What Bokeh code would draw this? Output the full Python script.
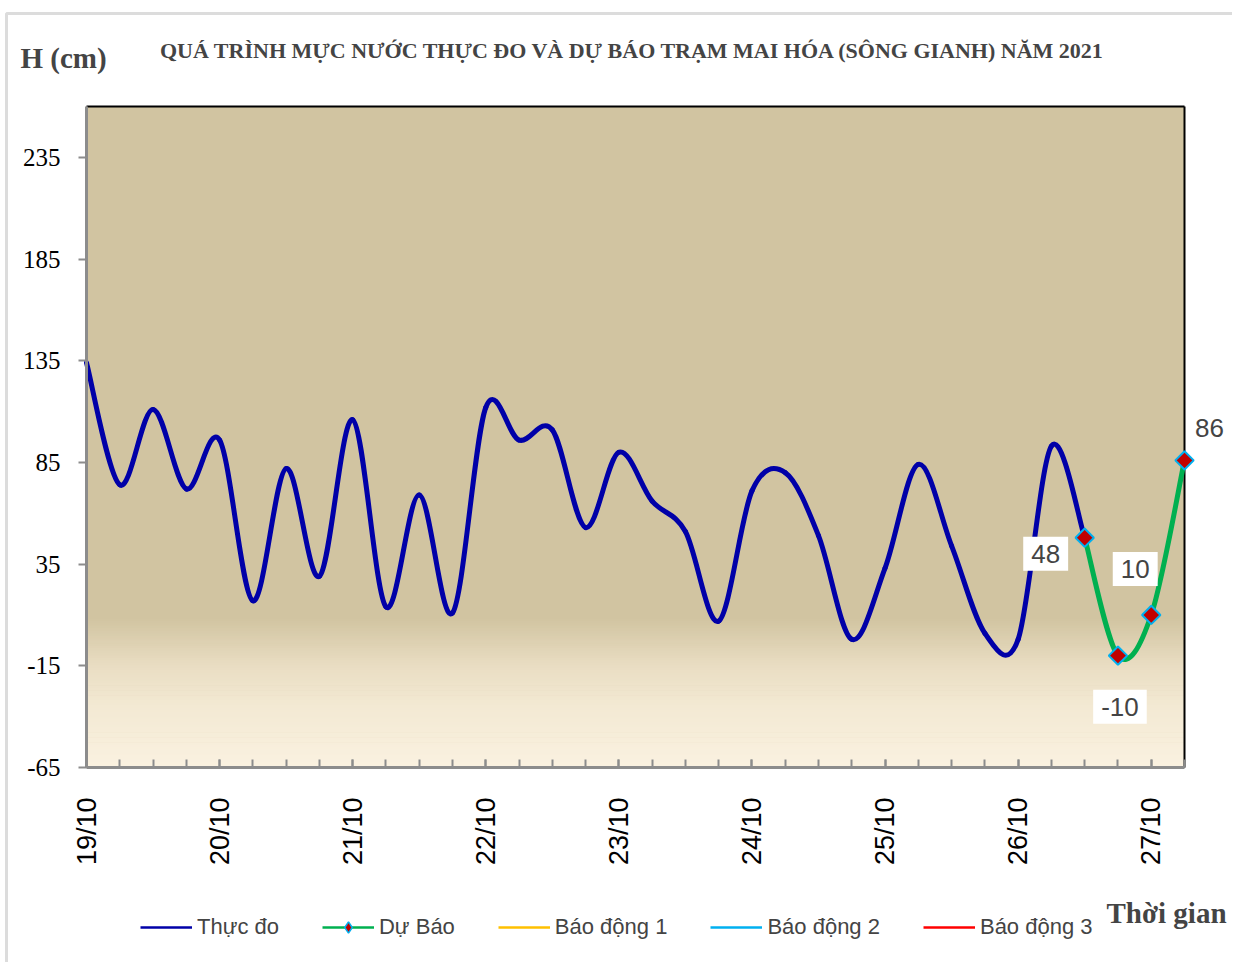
import math
import pandas as pd
from bokeh.plotting import figure
from bokeh.models import (Range1d, FixedTicker, Label, Legend, LegendItem,
                          BoxAnnotation, ColumnDataSource)
from bokeh.embed import file_html
from bokeh.resources import INLINE

# ---------------- data ----------------
title_text = "QUÁ TRÌNH MỰC NƯỚC THỰC ĐO VÀ DỰ BÁO TRẠM MAI HÓA (SÔNG GIANH) NĂM  2021"
y_title = "H (cm)"
x_title = "Thời gian"
day_labels = ["19/10", "20/10", "21/10", "22/10", "23/10", "24/10", "25/10", "26/10", "27/10"]
y_ticks = [-65, -15, 35, 85, 135, 185, 235]

start_time = "2021-10-19 00:00"
obs_time = pd.date_range("2021-10-19 00:00", "2021-10-26 12:00", freq="6h")
obs_level = [134, 74, 111, 72,
             96, 17, 82, 29,
             106, 14, 69, 11,
             112, 96, 101, 53,
             90, 66, 51, 7,
             71, 80, 49, -2,
             33, 84, 44, 1,
             -2, 93, 48]
fc_time = pd.date_range("2021-10-26 12:00", "2021-10-27 06:00", freq="6h")
fc_level = [48, -10, 10, 86]

legend_labels = ["Thực đo", "Dự Báo", "Báo động 1", "Báo động 2", "Báo động 3"]

# ---------------- helpers ----------------
t0 = pd.Timestamp(start_time)
def to_days(ts):
    return [(t - t0) / pd.Timedelta("1D") for t in ts]

def smooth_segments(xs, ys):
    """Bezier segments (Catmull-Rom) so the line looks like Excel's smoothed line."""
    n = len(xs)
    seg = dict(x0=[], y0=[], x1=[], y1=[], cx0=[], cy0=[], cx1=[], cy1=[])
    for i in range(n - 1):
        xm, ym = (xs[i - 1], ys[i - 1]) if i > 0 else (xs[i], ys[i])
        xp, yp = (xs[i + 2], ys[i + 2]) if i + 2 < n else (xs[i + 1], ys[i + 1])
        seg["x0"].append(xs[i]); seg["y0"].append(ys[i])
        seg["x1"].append(xs[i + 1]); seg["y1"].append(ys[i + 1])
        seg["cx0"].append(xs[i] + (xs[i + 1] - xm) / 6)
        seg["cy0"].append(ys[i] + (ys[i + 1] - ym) / 6)
        seg["cx1"].append(xs[i + 1] - (xp - xs[i]) / 6)
        seg["cy1"].append(ys[i + 1] - (yp - ys[i]) / 6)
    return ColumnDataSource(seg)

obs_x = to_days(obs_time)
fc_x = to_days(fc_time)

# ---------------- layout (pixels) ----------------
W, H = 1232, 962
PX_L, PX_R, PY_T, PY_B = 86, 1184, 106, 767
X_MAX = 8.25
Y_MIN, Y_MAX = -65, 260
kx = (PX_R - PX_L) / X_MAX
ky = (PY_B - PY_T) / (Y_MAX - Y_MIN)
x_rng = Range1d(-PX_L / kx, X_MAX + (W - PX_R) / kx)
y_rng = Range1d(Y_MIN - (H - PY_B) / ky, Y_MAX + PY_T / ky)

p = figure(width=W, height=H, x_range=x_rng, y_range=y_rng,
           output_backend="svg", toolbar_location=None, min_border=0)
p.grid.visible = False
p.outline_line_color = None
p.background_fill_color = "white"
p.border_fill_color = "white"

# plot area background with gradient near the bottom
TAN = (209, 196, 161)
p.quad(left=0, right=X_MAX, bottom=Y_MIN, top=Y_MAX, fill_color="#%02x%02x%02x" % TAN, line_color=None)
stops = [(8, TAN), (-15, (233, 221, 194)), (-35, (243, 233, 211)), (-65, (250, 241, 224))]
nb = 60
band_b, band_t, band_c = [], [], []
for k in range(nb):
    top = stops[0][0] - k * (stops[0][0] - Y_MIN) / nb
    bot = stops[0][0] - (k + 1) * (stops[0][0] - Y_MIN) / nb
    mid = (top + bot) / 2
    for j in range(len(stops) - 1):
        if stops[j + 1][0] <= mid <= stops[j][0]:
            f = (stops[j][0] - mid) / (stops[j][0] - stops[j + 1][0])
            c = tuple(int(round(stops[j][1][m] + f * (stops[j + 1][1][m] - stops[j][1][m]))) for m in range(3))
    band_b.append(bot); band_t.append(min(top + 0.3, stops[0][0])); band_c.append("#%02x%02x%02x" % c)
p.quad(left=0, right=X_MAX, bottom=band_b, top=band_t, fill_color=band_c, line_color=None)

# plot-area top/right border
p.segment(x0=[0, X_MAX], y0=[Y_MAX, Y_MIN], x1=[X_MAX, X_MAX], y1=[Y_MAX, Y_MAX],
          line_color="black", line_width=2)

# axes (at the plot-area edges)
p.xaxis.fixed_location = Y_MIN
p.xaxis.bounds = (0, X_MAX)
p.xaxis.ticker = FixedTicker(ticks=list(range(len(day_labels))),
                             minor_ticks=[i * 0.25 for i in range(34)])
p.xaxis.major_label_overrides = {i: lab for i, lab in enumerate(day_labels)}
p.xaxis.major_label_orientation = math.pi / 2
p.xaxis.major_label_text_font = "Liberation Sans"
p.xaxis.major_label_text_font_size = "27px"
p.xaxis.major_label_text_color = "black"
p.xaxis.major_label_standoff = 30
p.xaxis.major_tick_in = 8
p.xaxis.major_tick_out = 0
p.xaxis.minor_tick_in = 8
p.xaxis.minor_tick_out = 0
p.xaxis.axis_line_color = "#8C8C8C"
p.xaxis.axis_line_width = 3
p.xaxis.major_tick_line_color = "#8C8C8C"
p.xaxis.minor_tick_line_color = "#8C8C8C"
p.xaxis.major_tick_line_width = 2
p.xaxis.minor_tick_line_width = 2

p.yaxis.fixed_location = 0
p.yaxis.bounds = (Y_MIN, Y_MAX)
p.yaxis.ticker = FixedTicker(ticks=y_ticks)
p.yaxis.major_label_overrides = {v: str(v) for v in y_ticks}
p.yaxis.major_label_text_font = "Liberation Serif"
p.yaxis.major_label_text_font_size = "25px"
p.yaxis.major_label_text_color = "black"
p.yaxis.major_label_standoff = 18
p.yaxis.major_tick_in = 0
p.yaxis.major_tick_out = 8
p.yaxis.minor_tick_line_color = None
p.yaxis.axis_line_color = "#8C8C8C"
p.yaxis.axis_line_width = 3
p.yaxis.major_tick_line_color = "#8C8C8C"
p.yaxis.major_tick_line_width = 2

# chart-area outer border (left and top)
p.add_layout(BoxAnnotation(left=6, right=5000, top=13, bottom=5000,
                           left_units="canvas", right_units="canvas",
                           top_units="canvas", bottom_units="canvas",
                           fill_alpha=0, line_color="#8C8C8C", line_width=3))

# series
OBS_C = "#0000A8"
FC_C = "#00B050"
p.bezier(x0="x0", y0="y0", x1="x1", y1="y1", cx0="cx0", cy0="cy0", cx1="cx1", cy1="cy1",
         source=smooth_segments(obs_x, obs_level), line_color=OBS_C, line_width=5, line_cap="round")
p.bezier(x0="x0", y0="y0", x1="x1", y1="y1", cx0="cx0", cy0="cy0", cx1="cx1", cy1="cy1",
         source=smooth_segments(fc_x, fc_level), line_color=FC_C, line_width=5, line_cap="round")
p.scatter(fc_x, fc_level, marker="square", angle=math.pi / 4, size=13, fill_color="#C00000",
          line_color="#00B0F0", line_width=2)

# legend-only renderers (nothing drawn in the plot: a single NaN point)
NA = [float("nan")]
lg_obs = p.line(NA, NA, line_color=OBS_C, line_width=2.5)
lg_fc = p.line(NA, NA, line_color=FC_C, line_width=2.5)
lg_fcm = p.scatter(NA, NA, marker="diamond", size=15, fill_color="#C00000",
                   line_color="#00B0F0", line_width=1.5)
lg_a1 = p.line(NA, NA, line_color="#FFC000", line_width=2.5)
lg_a2 = p.line(NA, NA, line_color="#00B0F0", line_width=2.5)
lg_a3 = p.line(NA, NA, line_color="#FF0000", line_width=2.5)
legend = Legend(items=[LegendItem(label=legend_labels[0], renderers=[lg_obs]),
                       LegendItem(label=legend_labels[1], renderers=[lg_fc, lg_fcm]),
                       LegendItem(label=legend_labels[2], renderers=[lg_a1]),
                       LegendItem(label=legend_labels[3], renderers=[lg_a2]),
                       LegendItem(label=legend_labels[4], renderers=[lg_a3])],
                orientation="horizontal", location=(140, H - 941),
                label_text_font="Liberation Sans", label_text_font_size="22px",
                glyph_width=52, glyph_height=28, label_height=28, label_standoff=5, spacing=43,
                padding=0, margin=0, border_line_color=None, background_fill_alpha=0)
p.add_layout(legend)

# data labels for forecast
lab_off = [(-39, -16), (2, -51), (-16, 46), (25, 32)]
for xv, yv, (dx, dy) in zip(fc_x, fc_level, lab_off):
    p.add_layout(Label(x=xv, y=yv, x_offset=dx, y_offset=dy, text=str(yv),
                       text_font="Liberation Sans", text_font_size="26px",
                       text_align="center", text_baseline="middle",
                       background_fill_color="white", padding=8))

# titles
p.add_layout(Label(x=635, y=H - 50, x_units="screen", y_units="screen", text=title_text,
                   text_font="Liberation Serif", text_font_style="bold", text_font_size="22px",
                   text_align="center", text_baseline="middle"))
p.add_layout(Label(x=20, y=H - 57, x_units="screen", y_units="screen", text=y_title,
                   text_font="Liberation Serif", text_font_style="bold", text_font_size="29px",
                   text_align="left", text_baseline="middle"))
p.add_layout(Label(x=1106, y=H - 912, x_units="screen", y_units="screen", text=x_title,
                   text_font="Liberation Serif", text_font_style="bold", text_font_size="29px",
                   text_align="left", text_baseline="middle"))

open("out.html", "w").write(file_html(p, INLINE))
